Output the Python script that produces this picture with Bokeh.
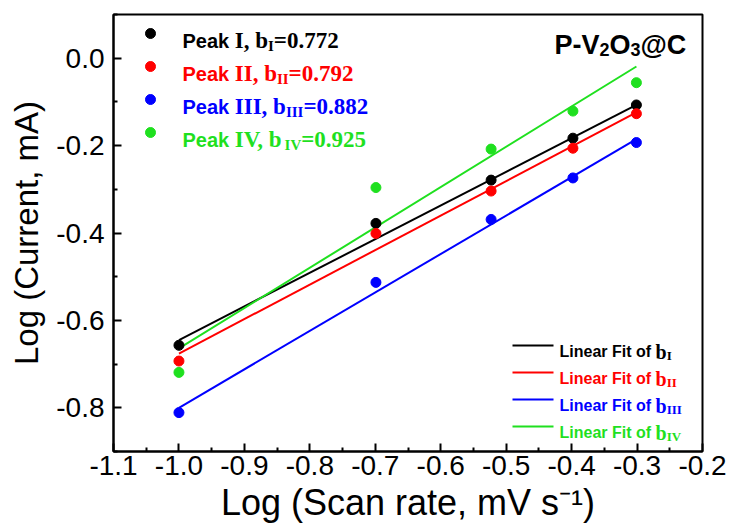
from bokeh.plotting import figure
from bokeh.models import Range1d, FixedTicker, PrintfTickFormatter, Label
from bokeh.embed import file_html
from bokeh.resources import INLINE

# ---------------- data ----------------
scan_log = [-1.0, -0.699, -0.523, -0.398, -0.301]          # log10 scan rate
peak_I   = [-0.657, -0.378, -0.279, -0.183, -0.107]
peak_II  = [-0.693, -0.401, -0.304, -0.206, -0.127]
peak_III = [-0.811, -0.513, -0.369, -0.274, -0.193]
peak_IV  = [-0.719, -0.296, -0.208, -0.121, -0.056]

fit_x     = [-1.0, -0.301]
fit_I     = [-0.645, -0.107]
fit_II    = [-0.676, -0.124]
fit_III   = [-0.800, -0.185]
fit_IV    = [-0.664, -0.019]

peak_names = ["I", "II", "III", "IV"]
b_values   = ["0.772", "0.792", "0.882", "0.925"]

x_ticks = [-1.1, -1.0, -0.9, -0.8, -0.7, -0.6, -0.5, -0.4, -0.3, -0.2]
y_ticks = [-0.8, -0.6, -0.4, -0.2, 0.0]

colors = ["#000000", "#ff0000", "#0000ff", "#1fe01f"]

series = [peak_I, peak_II, peak_III, peak_IV]
fits = [fit_I, fit_II, fit_III, fit_IV]

# ---------------- figure ----------------
X0, X1 = -1.1, -0.2
Y0, Y1 = -0.9, 0.1
W, H = 732, 531
BL, BR, BT, BB = 113, 30, 14, 80
FW, FH = W - BL - BR, H - BT - BB

p = figure(width=W, height=H, x_range=Range1d(X0, X1), y_range=Range1d(Y0, Y1),
           output_backend="svg", toolbar_location=None,
           min_border_left=BL, min_border_right=BR, min_border_top=BT, min_border_bottom=BB)
p.grid.visible = False
p.outline_line_color = "black"
p.outline_line_width = 2
p.outline_line_alpha = 1.0
p.background_fill_color = "white"
p.border_fill_color = "white"

x_minor = [(a + b) / 2 for a, b in zip(x_ticks[:-1], x_ticks[1:])] + [x_ticks[0] - 0.05]
y_minor = [(a + b) / 2 for a, b in zip(y_ticks[:-1], y_ticks[1:])] + [y_ticks[0] - 0.1, y_ticks[-1] + 0.1]
p.xaxis.ticker = FixedTicker(ticks=x_ticks, minor_ticks=x_minor)
p.yaxis.ticker = FixedTicker(ticks=y_ticks, minor_ticks=y_minor)
p.xaxis.formatter = PrintfTickFormatter(format="%.1f")
p.yaxis.formatter = PrintfTickFormatter(format="%.1f")

p.xaxis.axis_label = "Log (Scan rate, mV s\u207b\u00b9)"
p.yaxis.axis_label = "Log (Current, mA)"

for ax in (p.xaxis[0], p.yaxis[0]):
    ax.axis_line_width = 2
    ax.axis_line_color = "black"
    ax.major_tick_line_width = 2
    ax.minor_tick_line_width = 2
    ax.major_tick_line_color = "black"
    ax.minor_tick_line_color = "black"
    ax.major_tick_in = 8
    ax.major_tick_out = 0
    ax.minor_tick_in = 4
    ax.minor_tick_out = 0
    ax.major_label_text_font = "Liberation Sans"
    ax.major_label_text_font_size = "28px"
    ax.major_label_text_color = "black"
    ax.axis_label_text_font = "Liberation Sans"
    ax.axis_label_text_font_style = "normal"
    ax.axis_label_text_color = "black"
p.xaxis.axis_label_text_font_size = "36px"
p.yaxis.axis_label_text_font_size = "33px"
p.xaxis.major_label_standoff = 4
p.xaxis.axis_label_standoff = 4
p.yaxis.major_label_standoff = 9
p.yaxis.axis_label_standoff = 8

# fit lines and points
for fy, c in zip(fits, colors):
    p.line(fit_x, fy, line_color=c, line_width=2)
for ys, c in zip(series, colors):
    p.scatter(scan_log, ys, size=10, fill_color=c, line_color=c, line_width=1)

# ---------------- annotation helpers ----------------
def px2x(px):
    return X0 + (px - BL) / FW * (X1 - X0)

def px2y(py):
    return Y1 - (py - BT) / FH * (Y1 - Y0)

SANS_B = {' ': 278, 'P': 667, 'e': 556, 'a': 556, 'k': 556, 'L': 611, 'i': 278, 'n': 611,
          'r': 389, 'F': 611, 't': 333, 'o': 611, 'f': 333, '-': 333, 'V': 667, 'O': 778,
          '@': 975, 'C': 722, '2': 556, '3': 556}
SERIF_B = {'I': 389, 'V': 722, ',': 250, ' ': 250, 'b': 556, '=': 570, '.': 250}
SERIF_B.update({d: 500 for d in "0123456789"})

SANS = "Liberation Sans"
SERIF = "Liberation Serif"


def rich(parts, x0, base):
    x = x0
    for text, fam, size, dy, color in parts:
        table = SANS_B if fam == SANS else SERIF_B
        p.add_layout(Label(x=px2x(x), y=px2y(base + dy), text=text, text_font=fam,
                           text_font_size=f"{size}px", text_font_style="bold",
                           text_color=color, text_baseline="alphabetic", text_align="left"))
        x += sum(table.get(ch, 500) for ch in text) / 1000 * size


# top-left legend
top_rows = [33, 66, 99, 132]
for name, b, c, ry in zip(peak_names, b_values, colors, top_rows):
    p.scatter([px2x(150)], [px2y(ry)], size=10, fill_color=c, line_color=c)
    rich([("Peak ", SANS, 20, 0, c),
          (f"{name}, b", SERIF, 23, 0, c),
          (name, SERIF, 15, 5, c),
          (f"={b}", SERIF, 23, 0, c)], 182, ry + 7)

# bottom-right legend
bot_rows = [345, 372, 399, 426]
for name, c, ry in zip(peak_names, colors, bot_rows):
    p.line([px2x(512), px2x(553)], [px2y(ry), px2y(ry)], line_color=c, line_width=2)
    rich([("Linear Fit of ", SANS, 16, 0, c),
          ("b", SERIF, 20, 0, c),
          (name, SERIF, 13, 4, c)], 559, ry + 6)

# sample title
rich([("P-V", SANS, 27, 0, "black"), ("2", SANS, 18, 5, "black"),
      ("O", SANS, 27, 0, "black"), ("3", SANS, 18, 5, "black"),
      ("@C", SANS, 27, 0, "black")], 554, 44)

open("out.html", "w").write(file_html(p, INLINE))
